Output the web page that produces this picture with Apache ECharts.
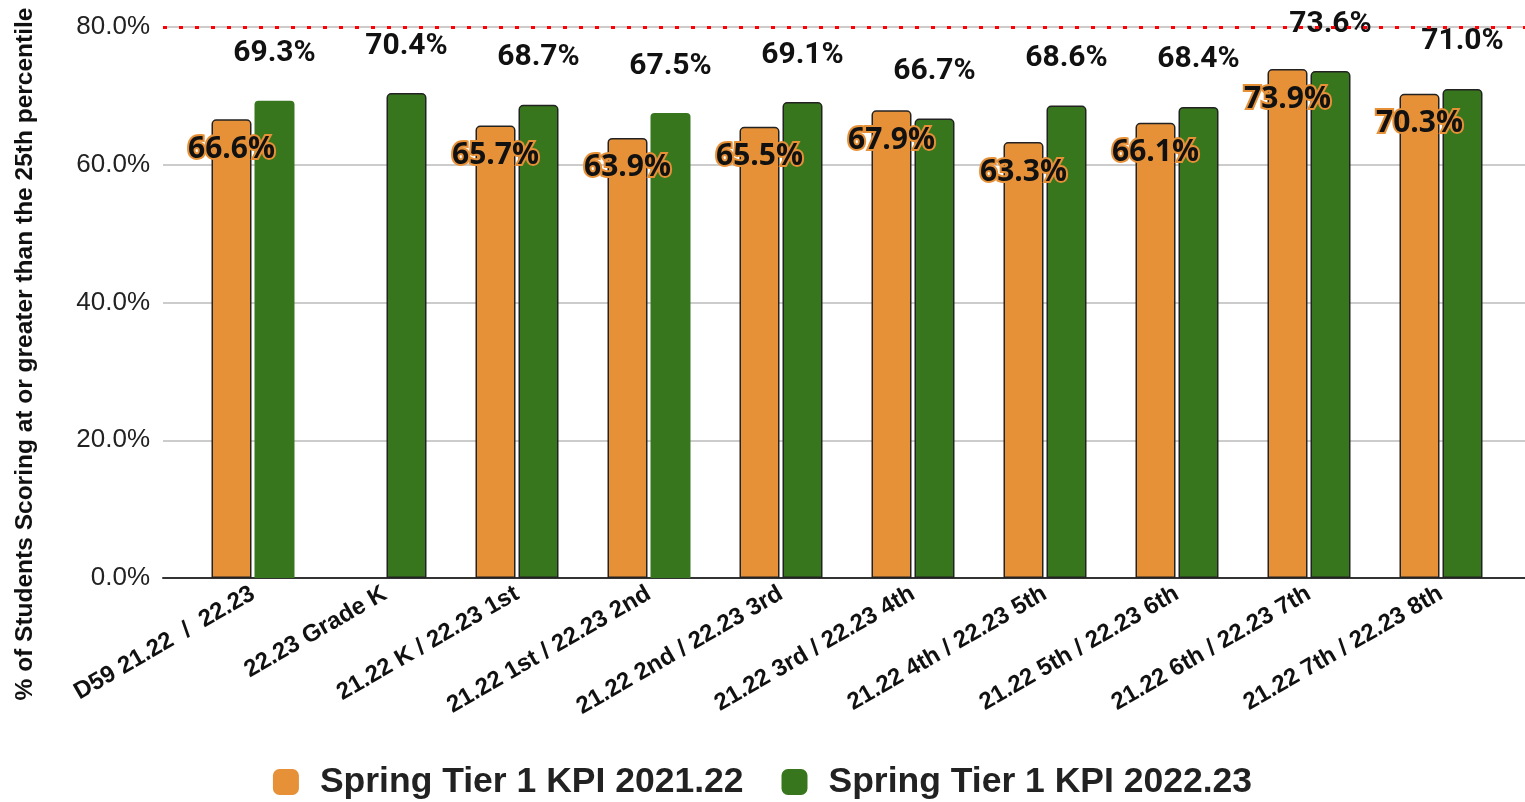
<!DOCTYPE html>
<html>
<head>
<meta charset="utf-8">
<script src="https://cdn.jsdelivr.net/npm/echarts@6/dist/echarts.min.js"></script>
<style>
html,body{margin:0;padding:0;background:#fff;}
#chart{width:1525px;height:802px;}
</style>
</head>
<body>
<div id="chart"></div>
<script>
const categories = [
  'D59 21.22  /  22.23',
  '22.23 Grade K',
  '21.22 K / 22.23 1st',
  '21.22 1st / 22.23 2nd',
  '21.22 2nd / 22.23 3rd',
  '21.22 3rd / 22.23 4th',
  '21.22 4th / 22.23 5th',
  '21.22 5th / 22.23 6th',
  '21.22 6th / 22.23 7th',
  '21.22 7th / 22.23 8th'
];
const seriesNames = ['Spring Tier 1 KPI 2021.22', 'Spring Tier 1 KPI 2022.23'];
const kpi2122 = [66.6, null, 65.7, 63.9, 65.5, 67.9, 63.3, 66.1, 73.9, 70.3];
const kpi2223 = [69.3, 70.4, 68.7, 67.5, 69.1, 66.7, 68.6, 68.4, 73.6, 71.0];
const yTicks = [0, 20, 40, 60, 80];
const targetLine = 80;
const greenNoBorder = [0, 3];

const ORANGE = '#e69138', GREEN = '#38761d', BORDER = '#222';
const fontArial = '"Liberation Sans", Arial, sans-serif';

const chart = echarts.init(document.getElementById('chart'), null, {renderer: 'canvas'});
const yMin = yTicks[0], yMax = yTicks[yTicks.length - 1], yInt = yTicks[1] - yTicks[0];

const greenData = kpi2223.map((v, i) => greenNoBorder.indexOf(i) >= 0
  ? {value: v, itemStyle: {borderWidth: 0}} : v);

chart.setOption({
  animation: false,
  backgroundColor: '#fff',
  grid: [
    {left: 163, right: 0, top: 27, bottom: 224},
    {left: 187, right: 18, top: 27, bottom: 224}
  ],
  xAxis: [
    {gridIndex: 0, type: 'category', data: [''],
     axisLine: {show: true, lineStyle: {color: '#333', width: 2}},
     axisTick: {show: false}, axisLabel: {show: false}, splitLine: {show: false}},
    {gridIndex: 1, type: 'category', data: categories,
     axisLine: {show: false}, axisTick: {show: false},
     axisLabel: {rotate: 30, margin: 14, interval: 0, fontSize: 24, fontWeight: 'bold',
                 color: '#111', fontFamily: fontArial}}
  ],
  yAxis: [
    {gridIndex: 0, type: 'value', min: yMin, max: yMax, interval: yInt,
     axisLine: {show: false}, axisTick: {show: false},
     axisLabel: {margin: 13, fontSize: 26, color: '#222', fontFamily: fontArial,
                 formatter: v => v.toFixed(1) + '%'},
     splitLine: {show: true, lineStyle: {color: '#cccccc', width: 2}}},
    {gridIndex: 1, type: 'value', min: yMin, max: yMax, interval: yInt, show: false,
     splitLine: {show: false}}
  ],
  legend: {
    data: seriesNames,
    top: 759, left: 'center',
    icon: 'roundRect', itemWidth: 26, itemHeight: 26, itemGap: 38,
    itemStyle: {borderWidth: 0},
    textStyle: {fontSize: 35.5, fontWeight: 'bold', color: '#222', fontFamily: fontArial,
                padding: [0, 0, 0, 16]}
  },
  graphic: [{
    type: 'text', x: 25, y: 354, rotation: Math.PI / 2,
    style: {text: '% of Students Scoring at or greater than the 25th percentile',
            font: 'bold 24.5px ' + fontArial, fill: '#111',
            textAlign: 'center', textVerticalAlign: 'middle'}
  }],
  series: [
    {type: 'line', xAxisIndex: 0, yAxisIndex: 0, data: [null], silent: true,
     symbol: 'none', z: 5,
     markLine: {silent: true, symbol: 'none', label: {show: false},
                lineStyle: {color: '#ff0000', width: 3, type: [4, 12], cap: 'butt'},
                data: [{yAxis: targetLine}]}},
    {name: seriesNames[0], type: 'bar', xAxisIndex: 1, yAxisIndex: 1, data: kpi2122,
     barWidth: 40, barGap: '7.5%', z: 3,
     itemStyle: {color: ORANGE, borderColor: BORDER, borderWidth: 1.5, borderRadius: [4, 4, 0, 0]},
     label: {show: true, position: 'insideTop', distance: 15,
             formatter: p => p.value.toFixed(1) + '%',
             fontFamily: '"Open Sans", sans-serif', fontWeight: 'bold', fontSize: 30,
             color: '#111', textBorderColor: ORANGE, textBorderWidth: 4}},
    {name: seriesNames[1], type: 'bar', xAxisIndex: 1, yAxisIndex: 1, data: greenData,
     barWidth: 40, z: 2,
     itemStyle: {color: GREEN, borderColor: BORDER, borderWidth: 1.5, borderRadius: [4, 4, 0, 0]},
     label: {show: true, position: 'top', distance: 32,
             formatter: p => p.value.toFixed(1) + '%',
             fontFamily: 'Roboto, sans-serif', fontWeight: 'bold', fontSize: 30, color: '#111'}}
  ]
});
</script>
</body>
</html>
